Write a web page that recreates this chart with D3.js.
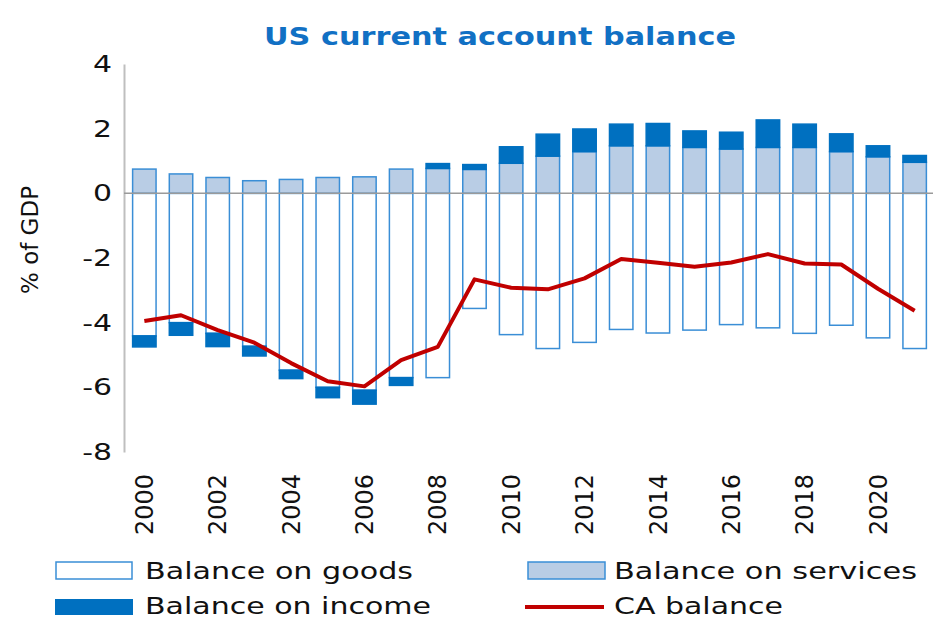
<!DOCTYPE html>
<html>
<head>
<meta charset="utf-8">
<script src="https://cdn.jsdelivr.net/npm/d3@7"></script>
<style>
  body { margin: 0; background: #fff; }
  text { font-family: "DejaVu Sans", sans-serif; }
</style>
</head>
<body>
<svg id="chart" width="938" height="619"></svg>
<script>
// values (% of GDP)
var years = ["2000","2001","2002","2003","2004","2005","2006","2007","2008","2009","2010",
  "2011","2012","2013","2014","2015","2016","2017","2018","2019","2020","2021"];
var goods = [-4.41,-4.00,-4.33,-4.73,-5.47,-6.00,-6.09,-5.70,-5.70,-3.56,-4.37,
  -4.80,-4.61,-4.21,-4.32,-4.23,-4.06,-4.16,-4.33,-4.08,-4.47,-4.80];
var services = [0.75,0.60,0.49,0.39,0.43,0.49,0.51,0.75,0.77,0.74,0.93,
  1.15,1.29,1.47,1.47,1.42,1.37,1.42,1.42,1.29,1.13,0.96];
var income = [-0.34,-0.39,-0.41,-0.30,-0.26,-0.32,-0.43,-0.24,0.15,0.15,0.51,
  0.68,0.70,0.67,0.69,0.51,0.52,0.85,0.72,0.55,0.34,0.21];
var caBalance = [-3.95,-3.77,-4.23,-4.62,-5.25,-5.81,-5.97,-5.16,-4.75,-2.66,-2.92,
  -2.97,-2.63,-2.03,-2.15,-2.27,-2.14,-1.88,-2.17,-2.20,-2.95,-3.63];
var yTicks = [4, 2, 0, -2, -4, -6, -8];
var xTickYears = years.filter(function (d, i) { return i % 2 == 0; });

var rows = years.map(function (y, i) {
  return { year: y, goods: goods[i], services: services[i], income: income[i] };
});

var svg = d3.select("#chart");

var x = d3.scaleBand().domain(years).range([126, 933]).paddingInner(0.32).paddingOuter(0.16);
var y = d3.scaleLinear().domain([-8, 4]).range([452, 64]);

// stretch text a bit wider, the reference font runs wide
function stretch(sel, k) {
  sel.each(function () {
    var w = this.getComputedTextLength();
    d3.select(this).attr("textLength", w * k).attr("lengthAdjust", "spacingAndGlyphs");
  });
}

// title
svg.append("text")
  .attr("x", 500)
  .attr("y", 45)
  .attr("text-anchor", "middle")
  .style("font-size", "25px")
  .style("font-weight", "bold")
  .style("fill", "#1170c4")
  .attr("textLength", 472)
  .attr("lengthAdjust", "spacingAndGlyphs")
  .text("US current account balance");

// y axis
var yAxis = svg.append("g")
  .attr("transform", "translate(124,0)")
  .call(d3.axisLeft(y).tickValues(yTicks).tickSize(0).tickPadding(12).tickFormat(function (d) {
    return d < 0 ? "-" + Math.abs(d) : d;
  }));
yAxis.select(".domain").attr("stroke", "#bfbfbf").attr("stroke-width", 2);
yAxis.selectAll("text").style("font-size", "23px").style("fill", "#111").attr("font-family", null);
stretch(yAxis.selectAll("text"), 1.3);

svg.append("text")
  .attr("transform", "translate(38,240)rotate(-90)")
  .attr("text-anchor", "middle")
  .style("font-size", "23px")
  .style("fill", "#111")
  .text("% of GDP");

// x labels
svg.append("g")
  .selectAll("text")
  .data(xTickYears)
  .enter()
  .append("text")
  .attr("transform", function (d) {
    return "translate(" + (x(d) + x.bandwidth() / 2) + ",474)rotate(-90)";
  })
  .attr("dy", "0.36em")
  .attr("text-anchor", "end")
  .style("font-size", "24px")
  .style("fill", "#111")
  .text(function (d) { return d; });

// stacked bars
var stack = d3.stack().keys(["goods", "services", "income"]).offset(d3.stackOffsetDiverging);
var series = stack(rows);
var fills = { goods: "#ffffff", services: "#b9cde5", income: "#0070c0" };
var strokes = { goods: "#3a8ed6", services: "#3a8ed6", income: "#0070c0" };

svg.append("g")
  .selectAll("g")
  .data(series)
  .enter()
  .append("g")
  .selectAll("rect")
  .data(function (s) { return s.map(function (d) { d.key = s.key; return d; }); })
  .enter()
  .append("rect")
  .attr("x", function (d) { return x(d.data.year) + 0.75; })
  .attr("width", x.bandwidth() - 1.5)
  .attr("y", function (d) { return y(Math.max(d[0], d[1])); })
  .attr("height", function (d) { return Math.abs(y(d[0]) - y(d[1])); })
  .style("fill", function (d) { return fills[d.key]; })
  .style("stroke", function (d) { return strokes[d.key]; })
  .style("stroke-width", 1.5);

// zero line
svg.append("line")
  .attr("x1", 124)
  .attr("x2", 933)
  .attr("y1", y(0))
  .attr("y2", y(0))
  .style("stroke", "#9a9a9a")
  .style("stroke-width", 1.5);

// CA balance line
var line = d3.line()
  .x(function (d, i) { return x(years[i]) + x.bandwidth() / 2; })
  .y(function (d) { return y(d); });

svg.append("path")
  .datum(caBalance)
  .attr("d", line)
  .style("fill", "none")
  .style("stroke", "#c00000")
  .style("stroke-width", 4)
  .style("stroke-linejoin", "round");

// legend
var lg = svg.append("g");
lg.append("rect").attr("x", 56).attr("y", 562).attr("width", 76).attr("height", 17)
  .style("fill", fills.goods).style("stroke", strokes.goods).style("stroke-width", 1.5);
lg.append("rect").attr("x", 528).attr("y", 562).attr("width", 77).attr("height", 17)
  .style("fill", fills.services).style("stroke", strokes.services).style("stroke-width", 1.5);
lg.append("rect").attr("x", 55).attr("y", 599).attr("width", 78).attr("height", 16)
  .style("fill", fills.income);
lg.append("line").attr("x1", 525).attr("x2", 604).attr("y1", 607).attr("y2", 607)
  .style("stroke", "#c00000").style("stroke-width", 4);

var legendText = [
  { label: "Balance on goods", x: 145, y: 579, w: 268 },
  { label: "Balance on services", x: 614, y: 579, w: 303 },
  { label: "Balance on income", x: 145, y: 614, w: 286 },
  { label: "CA balance", x: 614, y: 614, w: 169 }
];
lg.selectAll("text.lab")
  .data(legendText)
  .enter()
  .append("text")
  .attr("class", "lab")
  .attr("x", function (d) { return d.x; })
  .attr("y", function (d) { return d.y; })
  .attr("textLength", function (d) { return d.w; })
  .attr("lengthAdjust", "spacingAndGlyphs")
  .style("font-size", "23px")
  .style("fill", "#111")
  .text(function (d) { return d.label; });
</script>
</body>
</html>
